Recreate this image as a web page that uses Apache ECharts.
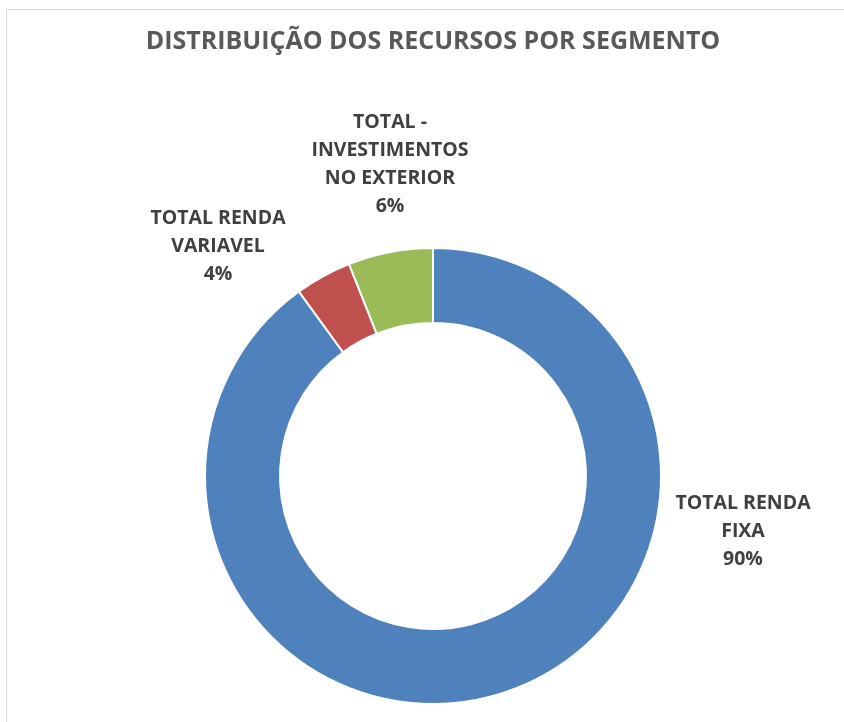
<!DOCTYPE html>
<html>
  <head>
    <meta charset="utf-8" />
    <title></title>
    <style type="text/css">
      html,
      body {
        width: 100%;
        height: 100%;
        margin: 0;
        background: #fff;
      }
      #main {
        width: 844px;
        height: 722px;
      }
    </style>
  </head>
  <body>
    <div id="main"></div>
    <script src="https://cdn.jsdelivr.net/npm/echarts@6/dist/echarts.min.js"></script>
    <script type="text/javascript">
      // dados
      var segmentos = ["TOTAL RENDA\nFIXA", "TOTAL RENDA\nVARIAVEL", "TOTAL -\nINVESTIMENTOS\nNO EXTERIOR"];
      var valores = [90, 4, 6];
      var cores = ["#4F81BD", "#C0504D", "#9BBB59"];

      // posição dos rótulos (centro do bloco de texto)
      var posRotulos = [
        [743, 531],
        [218, 246],
        [390, 164],
      ];

      var myChart = echarts.init(document.getElementById("main"));
      var fonte = "'Open Sans', sans-serif";

      var option = {
        backgroundColor: "#fff",
        title: {
          text: "DISTRIBUIÇÃO DOS RECURSOS POR SEGMENTO",
          left: 428,
          top: 24,
          textAlign: "center",
          textStyle: {
            color: "#595959",
            fontFamily: fonte,
            fontWeight: "bold",
            fontSize: 25,
          },
        },
        graphic: [
          {
            type: "rect",
            shape: { x: 6.5, y: 9.5, width: 900, height: 800 },
            style: { fill: "none", stroke: "#d9d9d9", lineWidth: 1 },
            silent: true,
          },
        ],
        series: [
          {
            type: "pie",
            center: [433, 476],
            radius: [153, 228],
            startAngle: 90,
            clockwise: true,
            avoidLabelOverlap: false,
            itemStyle: {
              borderColor: "#fff",
              borderWidth: 2,
            },
            label: {
              show: true,
              position: "outside",
              color: "#404040",
              fontFamily: fonte,
              fontWeight: "bold",
              fontSize: 19.5,
              lineHeight: 28,
              align: "center",
              formatter: function (p) {
                return p.name + "\n" + Math.round(p.percent) + "%";
              },
            },
            labelLine: { show: false },
            labelLayout: function (p) {
              var pos = posRotulos[p.dataIndex];
              return {
                x: pos[0],
                y: pos[1],
                align: "center",
                verticalAlign: "middle",
              };
            },
            emphasis: { disabled: true },
            data: segmentos.map(function (nome, i) {
              return {
                name: nome,
                value: valores[i],
                itemStyle: { color: cores[i] },
              };
            }),
          },
        ],
      };

      myChart.setOption(option);
    </script>
  </body>
</html>
